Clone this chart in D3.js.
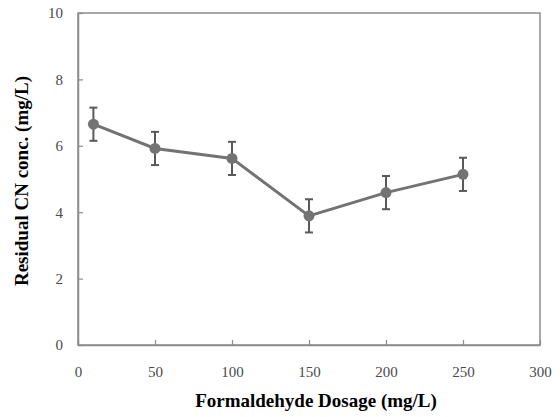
<!DOCTYPE html>
<html>
<head>
<meta charset="utf-8">
<script src="https://cdn.jsdelivr.net/npm/d3@7"></script>
<style>
  body { margin: 0; background: #fff; }
  text { font-family: "Liberation Serif", "Times New Roman", serif; }
</style>
</head>
<body>
<div id="chart"></div>
<script>
const LINE_GREY = "#737373"
const AXIS_GREY = "#8c8c8c"
const TICK_TEXT = "#4a4a4a"

// data
var dosage = [10, 50, 100, 150, 200, 250];
var residualCN = [6.65, 5.92, 5.62, 3.89, 4.59, 5.14];
var errorBar = [0.5, 0.5, 0.5, 0.5, 0.5, 0.5];
var xTicks = [0, 50, 100, 150, 200, 250, 300];
var yTicks = [0, 2, 4, 6, 8, 10];

var margin = {top: 13, right: 20, bottom: 72, left: 78};
var width = 560 - margin.left - margin.right;
var height = 417 - margin.top - margin.bottom;

var svg = d3.select("#chart")
  .append("svg")
  .attr("width", 560)
  .attr("height", 417)
  .append("g")
  .attr("transform", "translate(" + margin.left + "," + margin.top + ")");

var x = d3.scaleLinear().domain([0, 300]).range([0, width]);
var y = d3.scaleLinear().domain([0, 10]).range([height, 0]);

// frame
svg.append("rect")
  .attr("x", 0).attr("y", 0)
  .attr("width", width).attr("height", height)
  .attr("fill", "none")
  .attr("stroke", AXIS_GREY)
  .attr("stroke-width", 1.5);

// x axis, ticks pointing inward
var xAxis = svg.append("g")
  .attr("transform", "translate(0," + height + ")")
  .call(d3.axisBottom(x).tickValues(xTicks).tickSizeInner(-5).tickSizeOuter(0).tickPadding(21));
xAxis.select(".domain").attr("stroke", AXIS_GREY).attr("stroke-width", 1.5);
xAxis.selectAll(".tick line").attr("stroke", AXIS_GREY).attr("stroke-width", 1.2);
xAxis.selectAll(".tick text")
  .attr("fill", TICK_TEXT)
  .style("font-size", "15px");

// y axis, ticks pointing inward
var yAxis = svg.append("g")
  .call(d3.axisLeft(y).tickValues(yTicks).tickSizeInner(-5).tickSizeOuter(0).tickPadding(15));
yAxis.select(".domain").attr("stroke", AXIS_GREY).attr("stroke-width", 1.5);
yAxis.selectAll(".tick line").attr("stroke", AXIS_GREY).attr("stroke-width", 1.2);
yAxis.selectAll(".tick text")
  .attr("fill", TICK_TEXT)
  .style("font-size", "15px");

var data = dosage.map(function(d, i) { return [d, residualCN[i], errorBar[i]]; });

// connecting line
svg.append("path")
  .datum(data)
  .attr("fill", "none")
  .attr("stroke", LINE_GREY)
  .attr("stroke-width", 3)
  .attr("d", d3.line()
    .x(function(d) { return x(d[0]); })
    .y(function(d) { return y(d[1]); }));

// error bars
var eb = svg.selectAll(".err")
  .data(data)
  .enter()
  .append("g")
  .attr("class", "err")
  .attr("stroke", "#595959")
  .attr("stroke-width", 2);
eb.append("line")
  .attr("x1", function(d) { return x(d[0]); })
  .attr("x2", function(d) { return x(d[0]); })
  .attr("y1", function(d) { return y(d[1] + d[2]); })
  .attr("y2", function(d) { return y(d[1] - d[2]); });
eb.append("line")
  .attr("x1", function(d) { return x(d[0]) - 4; })
  .attr("x2", function(d) { return x(d[0]) + 4; })
  .attr("y1", function(d) { return y(d[1] + d[2]); })
  .attr("y2", function(d) { return y(d[1] + d[2]); });
eb.append("line")
  .attr("x1", function(d) { return x(d[0]) - 4; })
  .attr("x2", function(d) { return x(d[0]) + 4; })
  .attr("y1", function(d) { return y(d[1] - d[2]); })
  .attr("y2", function(d) { return y(d[1] - d[2]); });

// markers
svg.selectAll(".pt")
  .data(data)
  .enter()
  .append("circle")
  .attr("class", "pt")
  .attr("cx", function(d) { return x(d[0]); })
  .attr("cy", function(d) { return y(d[1]); })
  .attr("r", 5.5)
  .attr("fill", LINE_GREY);

// axis titles
svg.append("text")
  .attr("x", 316 - margin.left)
  .attr("y", height + 62)
  .attr("text-anchor", "middle")
  .style("font-size", "19px")
  .style("font-weight", "bold")
  .text("Formaldehyde Dosage (mg/L)");

svg.append("g")
  .attr("transform", "translate(" + (-50) + "," + (181 - margin.top) + ")")
  .append("text")
  .attr("text-anchor", "middle")
  .attr("transform", "rotate(-90)")
  .style("font-size", "19px")
  .style("font-weight", "bold")
  .text("Residual CN conc. (mg/L)");
</script>
</body>
</html>
